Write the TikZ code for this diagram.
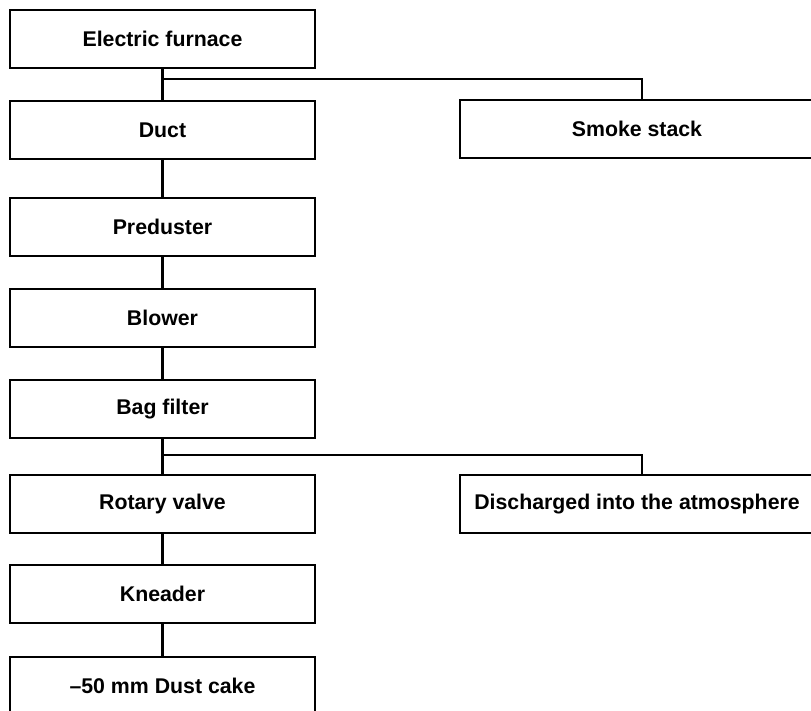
\documentclass[tikz,border=0pt]{standalone}
\usepackage{fontspec}
\setmainfont{Liberation Sans}
\begin{document}
\begin{tikzpicture}[x=1pt,y=-1pt,
  box/.style={draw, line width=2.2pt, minimum width=305pt, minimum height=58pt,
              inner sep=0pt, font=\bfseries\fontsize{21.3}{25}\selectfont},
  sidebox/.style={box, minimum width=354pt},
  link/.style={line width=2.4pt},
  branch/.style={line width=1.8pt}]
\useasboundingbox (0,0) rectangle (811,710);
% main process column
\node[box] (furnace) at (162.5,39)  {Electric furnace};
\node[box] (duct)    at (162.5,130) {Duct};
\node[box] (pre)     at (162.5,227) {Preduster};
\node[box] (blower)  at (162.5,318) {Blower};
\node[box] (bag)     at (162.5,409) {Bag filter};
\node[box] (rotary)  at (162.5,504) {Rotary valve};
\node[box] (kneader) at (162.5,594) {Kneader};
\node[box] (cake)    at (162.5,686) {--50 mm Dust cake};
% side branches
\node[sidebox] (smoke) at (637,129) {Smoke stack};
\node[sidebox] (air)   at (637,504) {Discharged into the atmosphere};
% vertical links
\draw[link] (furnace) -- (duct);
\draw[link] (duct) -- (pre);
\draw[link] (pre) -- (blower);
\draw[link] (blower) -- (bag);
\draw[link] (bag) -- (rotary);
\draw[link] (rotary) -- (kneader);
\draw[link] (kneader) -- (cake);
% branch take-offs
\coordinate (j1) at (163,79);
\coordinate (j2) at (163,455);
\draw[branch] (j1) -| ([xshift=5pt]smoke.north);
\draw[branch] (j2) -| ([xshift=5pt]air.north);
\end{tikzpicture}
\end{document}
